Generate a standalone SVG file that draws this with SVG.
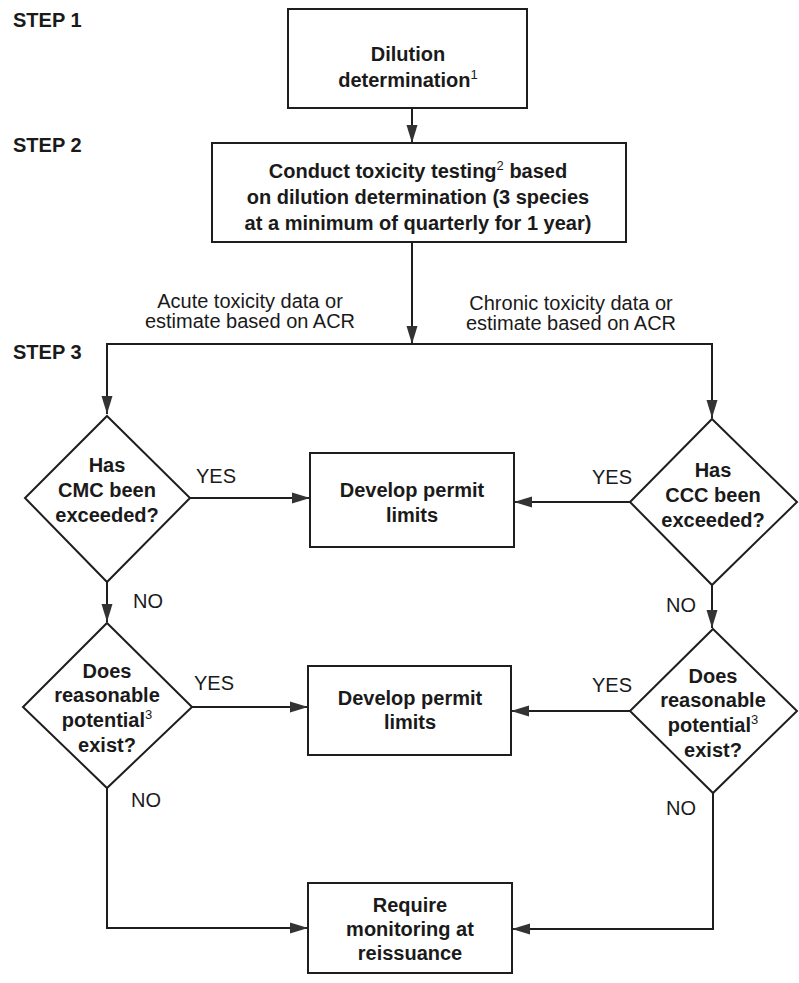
<svg xmlns="http://www.w3.org/2000/svg" width="799" height="983" viewBox="0 0 799 983">
<style>
.box{fill:#fff;stroke:#1e1e1e;stroke-width:2}
.dia{fill:none;stroke:#1e1e1e;stroke-width:2}
.ln{fill:none;stroke:#1e1e1e;stroke-width:2}
.b{font-family:"Liberation Sans",Arial,sans-serif;font-weight:bold;font-size:20px;fill:#1a1a1a;text-anchor:middle}
.r{font-family:"Liberation Sans",Arial,sans-serif;font-size:20px;fill:#1a1a1a;text-anchor:middle}
.s{font-family:"Liberation Sans",Arial,sans-serif;font-weight:bold;font-size:20px;fill:#1a1a1a}
.sup{font-size:13px;font-weight:normal}
</style>
<defs>
<marker id="ah" markerWidth="20" markerHeight="12" refX="18" refY="6" orient="auto" markerUnits="userSpaceOnUse">
<path d="M0,0.5 L18,6 L0,11.5 Z" fill="#333"/>
</marker>
</defs>
<rect width="799" height="983" fill="#fff"/>
<g id="steps">
<text class="s" x="13" y="27">STEP 1</text>
<text class="s" x="13" y="152">STEP 2</text>
<text class="s" x="13" y="359">STEP 3</text>
</g>
<g id="connectors">
<line class="ln" x1="412" y1="108" x2="412" y2="143" marker-end="url(#ah)"/>
<line class="ln" x1="412" y1="242" x2="412" y2="344" marker-end="url(#ah)"/>
<polyline class="ln" points="107,400 107,344 712,344 712,400"/>
<line class="ln" x1="107" y1="380" x2="107" y2="414" marker-end="url(#ah)"/>
<line class="ln" x1="712" y1="380" x2="712" y2="418" marker-end="url(#ah)"/>
<line class="ln" x1="190" y1="498" x2="310" y2="498" marker-end="url(#ah)"/>
<line class="ln" x1="630" y1="502" x2="514" y2="502" marker-end="url(#ah)"/>
<line class="ln" x1="107" y1="582" x2="107" y2="622" marker-end="url(#ah)"/>
<line class="ln" x1="712" y1="585" x2="712" y2="628" marker-end="url(#ah)"/>
<line class="ln" x1="192" y1="707" x2="308" y2="707" marker-end="url(#ah)"/>
<line class="ln" x1="630" y1="711" x2="511" y2="711" marker-end="url(#ah)"/>
<polyline class="ln" points="107,788 107,928 308,928" marker-end="url(#ah)"/>
<polyline class="ln" points="713,793 713,929 512,929" marker-end="url(#ah)"/>
</g>
<g id="labels">
<text class="r" x="250" y="308">Acute toxicity data or</text>
<text class="r" x="250" y="328">estimate based on ACR</text>
<text class="r" x="571" y="310">Chronic toxicity data or</text>
<text class="r" x="571" y="330">estimate based on ACR</text>
<text class="r" x="216" y="483">YES</text>
<text class="r" x="612" y="484">YES</text>
<text class="r" x="148" y="608">NO</text>
<text class="r" x="681" y="612">NO</text>
<text class="r" x="214" y="690">YES</text>
<text class="r" x="612" y="692">YES</text>
<text class="r" x="146" y="807">NO</text>
<text class="r" x="681" y="815">NO</text>
</g>
<g id="n1">
<rect class="box" x="288" y="9" width="239" height="99"/>
<text class="b" x="408" y="61">Dilution</text>
<text class="b" x="408" y="87">determination<tspan class="sup" dy="-8">1</tspan></text>
</g>
<g id="n2">
<rect class="box" x="212" y="143" width="414" height="99"/>
<text class="b" x="418" y="178">Conduct toxicity testing<tspan class="sup" dy="-8">2</tspan><tspan dy="8"> based</tspan></text>
<text class="b" x="418" y="204">on dilution determination (3 species</text>
<text class="b" x="418" y="230">at a minimum of quarterly for 1 year)</text>
</g>
<g id="d1">
<polygon class="dia" points="107,416 190,498 107,582 25,498"/>
<text class="b" x="107" y="472">Has</text>
<text class="b" x="107" y="497">CMC been</text>
<text class="b" x="107" y="522">exceeded?</text>
</g>
<g id="d2">
<polygon class="dia" points="712,419 797,502 712,585 630,502"/>
<text class="b" x="713" y="477">Has</text>
<text class="b" x="713" y="502">CCC been</text>
<text class="b" x="713" y="527">exceeded?</text>
</g>
<g id="p1">
<rect class="box" x="310" y="453" width="204" height="94"/>
<text class="b" x="412" y="497">Develop permit</text>
<text class="b" x="412" y="522">limits</text>
</g>
<g id="d3">
<polygon class="dia" points="107,623 192,707 107,788 23,707"/>
<text class="b" x="107" y="678">Does</text>
<text class="b" x="107" y="702">reasonable</text>
<text class="b" x="107" y="727">potential<tspan class="sup" dy="-8">3</tspan></text>
<text class="b" x="107" y="752">exist?</text>
</g>
<g id="d4">
<polygon class="dia" points="713,629 797,711 713,793 630,711"/>
<text class="b" x="713" y="683">Does</text>
<text class="b" x="713" y="707">reasonable</text>
<text class="b" x="713" y="732">potential<tspan class="sup" dy="-8">3</tspan></text>
<text class="b" x="713" y="757">exist?</text>
</g>
<g id="p2">
<rect class="box" x="308" y="666" width="203" height="89"/>
<text class="b" x="410" y="705">Develop permit</text>
<text class="b" x="410" y="729">limits</text>
</g>
<g id="m">
<rect class="box" x="308" y="883" width="204" height="90"/>
<text class="b" x="410" y="912">Require</text>
<text class="b" x="410" y="936">monitoring at</text>
<text class="b" x="410" y="960">reissuance</text>
</g>
</svg>
